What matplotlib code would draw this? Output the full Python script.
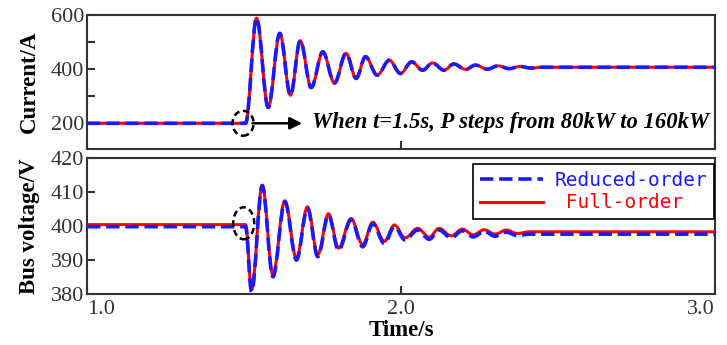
import numpy as np
import matplotlib
matplotlib.use("Agg")
import matplotlib.pyplot as plt
from matplotlib.path import Path
from matplotlib.patches import PathPatch, Ellipse
from matplotlib.lines import Line2D

# turning points of the step response (time in s)
t_cur = [1.000, 1.505, 1.540, 1.577, 1.614, 1.648, 1.679, 1.714, 1.751, 1.788,
         1.825, 1.857, 1.887, 1.924, 1.963, 1.998, 2.034, 2.069, 2.100, 2.137,
         2.168, 2.206, 2.237, 2.275, 2.308, 2.345, 2.378, 2.415, 2.450, 3.000]
i_full = [200, 200, 588, 259, 532, 304, 505, 332, 464, 349,
          458, 366, 446, 378, 433, 384, 427, 396, 423, 396,
          419, 399, 415, 400, 412, 402, 410, 404, 407, 407]
i_reduced = [200, 200, 588, 259, 532, 304, 505, 332, 464, 349,
             458, 366, 446, 378, 433, 384, 427, 396, 423, 396,
             419, 399, 415, 400, 412, 402, 410, 404, 407, 407]

t_vol = [1.000, 1.505, 1.524, 1.558, 1.592, 1.630, 1.667, 1.702, 1.735, 1.769,
         1.801, 1.841, 1.878, 1.910, 1.947, 1.979, 2.013, 2.053, 2.090, 2.121,
         2.160, 2.195, 2.230, 2.265, 2.300, 2.335, 2.370, 2.410, 3.000]
v_reduced = [399.8, 399.8, 380.7, 411.8, 385.1, 407.1, 390.0, 405.2, 391.0, 403.2,
             392.9, 401.8, 393.9, 400.6, 394.9, 399.8, 395.9, 398.8, 396.1, 398.8,
             396.5, 398.6, 396.8, 398.4, 397.0, 398.2, 397.2, 397.6, 397.6]
v_full = [400.4, 400.4, 381.2, 412.0, 385.6, 407.4, 390.5, 405.6, 391.6, 403.6,
          393.5, 402.2, 394.5, 401.1, 395.5, 400.3, 396.5, 399.3, 396.7, 399.3,
          397.1, 399.1, 397.4, 398.9, 397.6, 398.8, 397.8, 398.3, 398.3]

time_ticks = [1.0, 2.0, 3.0]
time_labels = ["1.0", "2.0", "3.0"]
labels = ["Reduced-order", " Full-order"]
RED = "#ff0000"
BLUE = "#1a1aff"
INK = "#333333"


def wave_path(ts, vs):
    # cubic segments between turning points, flat tangent at each one
    verts = [(ts[0], vs[0])]
    codes = [Path.MOVETO]
    for k in range(1, len(ts)):
        dt = ts[k] - ts[k - 1]
        verts += [(ts[k - 1] + 0.36 * dt, vs[k - 1]),
                  (ts[k] - 0.36 * dt, vs[k]),
                  (ts[k], vs[k])]
        codes += [Path.CURVE4] * 3
    return Path(verts, codes)


def draw_pair(ax, ts, full, reduced):
    ax.add_patch(PathPatch(wave_path(ts, full), fill=False, ec=RED, lw=2.2,
                           capstyle="butt", zorder=3))
    ax.add_patch(PathPatch(wave_path(ts, reduced), fill=False, ec=BLUE, lw=2.6,
                           ls=(0, (3.7, 1.6)), capstyle="butt", zorder=4))


plt.rcParams["font.family"] = ["Liberation Serif", "DejaVu Serif"]

fig = plt.figure(figsize=(7.27, 3.45), dpi=100)
ax1 = fig.add_axes([0.1197, 0.5681, 0.8638, 0.3884])
ax2 = fig.add_axes([0.1197, 0.1478, 0.8638, 0.3942])

draw_pair(ax1, t_cur, i_full, i_reduced)
draw_pair(ax2, t_vol, v_full, v_reduced)

ax1.set_xlim(1.0, 3.0)
ax1.set_ylim(105, 600)
ax1.set_yticks([200, 400, 600])
ax1.set_yticks([300, 500], minor=True)
ax1.set_xticks(time_ticks)
ax1.set_xticklabels([])

ax2.set_xlim(1.0, 3.0)
ax2.set_ylim(380, 420)
ax2.set_yticks([380, 390, 400, 410, 420])
ax2.set_xticks(time_ticks)
ax2.set_xticklabels(time_labels)

for ax in (ax1, ax2):
    for sp in ax.spines.values():
        sp.set_color(INK)
        sp.set_linewidth(1.5)
    ax.tick_params(which="both", direction="in", length=6, width=1.5,
                   color=INK, labelcolor=INK, labelsize=16, pad=2)
ax2.tick_params(axis="x", pad=4)
xl = ax2.get_xticklabels()
xl[0].set_ha("left")
xl[1].set_x(2.015)
xl[2].set_ha("right")

ax1.set_ylabel("Current/A", fontsize=16.5, fontweight="bold", labelpad=8)
ax2.set_ylabel("Bus voltage/V", fontsize=16.5, fontweight="bold", labelpad=8)
ax2.set_xlabel("Time/s", fontsize=16.5, fontweight="bold", labelpad=1)
fig.align_ylabels([ax1, ax2])

# marks at the load step
ax1.add_patch(Ellipse((1.497, 200), 0.067, 92, fill=False, ec="k", lw=1.8,
                      ls=(0, (2.5, 1.5)), zorder=5))
ax2.add_patch(Ellipse((1.499, 400.8), 0.067, 9.4, fill=False, ec="k", lw=1.8,
                      ls=(0, (2.5, 1.5)), zorder=5))
ax1.annotate("", xy=(1.685, 200), xytext=(1.527, 200),
             arrowprops=dict(arrowstyle="-|>", lw=1.8, color="k",
                             mutation_scale=18, shrinkA=0, shrinkB=0))
ax1.text(1.717, 203, "When t=1.5s, P steps from 80kW to 160kW", fontsize=16.3,
         fontweight="bold", fontstyle="italic", va="center", ha="left")

handles = [Line2D([], [], color=BLUE, lw=2.6, ls=(0, (3.7, 1.6))),
           Line2D([], [], color=RED, lw=2.2)]
leg = ax2.legend(handles, labels, loc="upper right", bbox_to_anchor=(0.998, 0.958),
                 borderaxespad=0, fancybox=False, edgecolor="k", framealpha=1,
                 handlelength=3.2, handletextpad=0.6, labelspacing=0.2,
                 borderpad=0.35, prop={"family": "DejaVu Sans Mono", "size": 14})
leg.get_frame().set_linewidth(1.2)
for txt, c in zip(leg.get_texts(), [BLUE, RED]):
    txt.set_color(c)

fig.savefig("out.png", dpi=100)
